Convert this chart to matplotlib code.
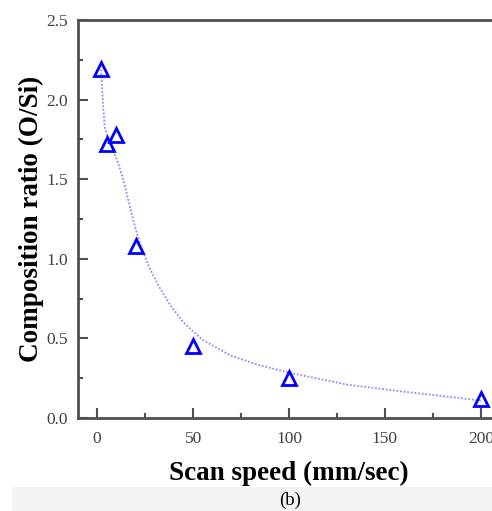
import matplotlib.pyplot as plt
from matplotlib.ticker import MultipleLocator
from matplotlib.patches import Rectangle

# measured points
speed = [2, 5, 10, 20, 50, 100, 200]
ratio = [2.19, 1.72, 1.78, 1.08, 0.45, 0.25, 0.12]

# fitted curve
fit_x = [2, 3, 4, 6, 8, 11, 14, 17, 20, 23, 27, 32, 38, 45, 55, 70, 85, 100, 130, 160, 200]
fit_y = [2.19, 1.98, 1.82, 1.75, 1.69, 1.60, 1.48, 1.33, 1.19, 1.07, 0.95, 0.83, 0.71, 0.60, 0.49, 0.39, 0.33, 0.285, 0.21, 0.165, 0.11]

plt.rcParams['font.family'] = ['Liberation Serif', 'DejaVu Serif']

W, H = 492, 511
fig = plt.figure(figsize=(W / 100, H / 100), dpi=100)

# grey caption band at the bottom
fig.patches.append(Rectangle((12 / W, 0), 1, 24 / H, transform=fig.transFigure,
                             facecolor='#f3f3f3', edgecolor='none', zorder=0))
fig.text(290 / W, 11 / H, '(b)', ha='center', va='center', fontsize=13.5, color='black')

ax = fig.add_axes([78 / W, (H - 418) / H, (500 - 78) / W, (418 - 20) / H])

ax.plot(fit_x, fit_y, linestyle=(0, (1, 1)), color='#8c8cff', linewidth=1.3)
ax.plot(speed, ratio, linestyle='none', marker='^', markersize=10,
        markerfacecolor='none', markeredgecolor='#0000ff', markeredgewidth=2)

ax.set_xlim(-10, 210)
ax.set_ylim(0, 2.5)
ax.xaxis.set_major_locator(MultipleLocator(50))
ax.xaxis.set_minor_locator(MultipleLocator(25))
ax.yaxis.set_major_locator(MultipleLocator(0.5))
ax.yaxis.set_minor_locator(MultipleLocator(0.25))
ax.yaxis.set_major_formatter(plt.FormatStrFormatter('%.1f'))

for s in ax.spines.values():
    s.set_color('#505050')
    s.set_linewidth(2)

ax.tick_params(which='major', direction='in', length=7, width=1.5, color='#505050',
               labelsize=12.5, labelcolor='#404040')
ax.tick_params(axis='x', which='major', pad=9)
ax.tick_params(axis='y', which='major', pad=7)
ax.tick_params(which='minor', direction='in', length=3.5, width=1.5, color='#505050')
ax.tick_params(top=False, right=False, which='both')

ax.set_xlabel('Scan speed (mm/sec)', fontsize=19.5, fontweight='bold', labelpad=10)
ax.set_ylabel('Composition ratio (O/Si)', fontsize=19.5, fontweight='bold', labelpad=2)

fig.savefig('out.png', dpi=100)
